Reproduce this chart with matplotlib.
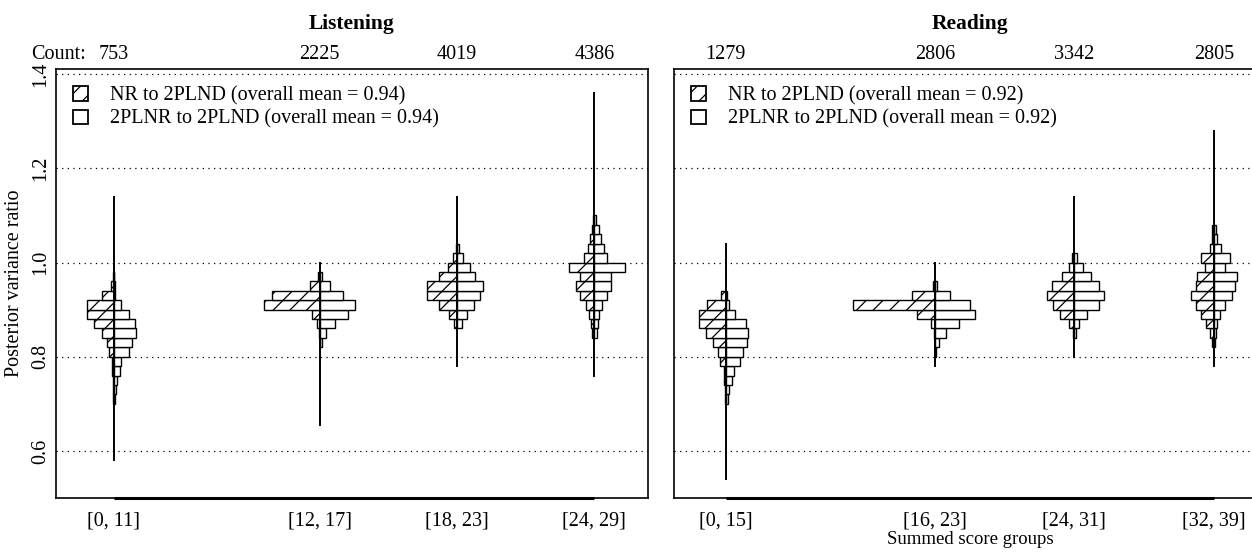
# 后验方差比的背靠背直方图 (Listening / Reading)
import numpy as np
import matplotlib.pyplot as plt
from matplotlib.patches import Patch

plt.rcParams['font.family'] = ['Liberation Serif', 'DejaVu Serif']
plt.rcParams['hatch.linewidth'] = 0.9

BIN = 0.02
positions = [0, 1.5, 2.5, 3.5]
FS = 14.5

# ---- Listening ----
listen_groups = ['[0, 11]', '[12, 17]', '[18, 23]', '[24, 29]']
listen_counts = [753, 2225, 4019, 4386]
listen_start = [0.70, 0.82, 0.86, 0.84]          # lower edge of first bin
# NR to 2PLND, percent per bin (bottom -> top)
listen_nr = [
    [0.8, 0.8, 0.8, 1.2, 1.6, 4.0, 5.4, 9.6, 16.0, 21.6, 21.6, 9.6, 2.2, 0.8],
    [0.0, 0.8, 2.2, 6.2, 45.4, 38.6, 8.0, 1.6],
    [2.2, 6.6, 14.6, 24.0, 24.0, 14.6, 7.0, 3.0, 0.8],
    [1.6, 2.6, 4.2, 7.2, 11.4, 15.0, 12.0, 20.8, 8.2, 5.6, 3.4, 1.6, 0.8],
]
# 2PLNR to 2PLND
listen_2pl = [
    [1.2, 2.0, 2.6, 4.8, 6.2, 12.0, 14.6, 18.2, 17.4, 12.0, 6.2, 1.4, 0.8, 0.4],
    [2.2, 5.4, 12.6, 23.2, 28.6, 19.2, 8.0, 1.6],
    [4.0, 7.8, 13.8, 18.4, 21.0, 14.6, 10.6, 5.0, 1.2],
    [2.4, 2.8, 4.0, 6.2, 9.8, 13.8, 13.2, 24.8, 9.8, 7.8, 5.0, 3.8, 1.6],
]
listen_range = [(0.58, 1.14), (0.655, 1.00), (0.78, 1.14), (0.76, 1.36)]
listen_means = (0.94, 0.94)

# ---- Reading ----
read_groups = ['[0, 15]', '[16, 23]', '[24, 31]', '[32, 39]']
read_counts = [1279, 2806, 3342, 2805]
read_start = [0.70, 0.80, 0.84, 0.82]
read_nr = [
    [0.8, 0.8, 1.2, 1.6, 4.8, 5.8, 9.8, 15.6, 20.8, 20.8, 15.0, 4.0],
    [0.0, 0.0, 0.8, 3.2, 14.6, 64.8, 18.2, 1.2],
    [1.2, 4.0, 11.2, 16.8, 21.6, 17.6, 9.8, 4.0, 1.6],
    [1.6, 3.2, 6.6, 10.6, 14.2, 17.8, 14.2, 13.4, 7.2, 10.6, 3.4, 1.8, 1.2],
]
read_2pl = [
    [1.6, 2.6, 5.4, 6.8, 11.4, 14.2, 17.0, 18.2, 16.0, 7.4, 2.6, 0.8],
    [0.8, 3.2, 8.6, 19.2, 32.0, 27.8, 12.0, 1.6],
    [1.2, 4.0, 10.2, 19.4, 24.0, 19.4, 13.6, 6.6, 2.4],
    [0.8, 1.4, 2.6, 4.6, 8.8, 14.2, 16.8, 18.2, 8.8, 12.6, 5.4, 2.4, 1.6],
]
read_range = [(0.54, 1.04), (0.78, 1.00), (0.80, 1.14), (0.78, 1.28)]
read_means = (0.92, 0.92)

PCT = 0.009   # x units per percent
COUNT_DY = 7.5


def draw_panel(ax, title, groups, counts, starts, nr, pl, ranges, means, xlim):
    ax.set_xlim(*xlim)
    ax.set_ylim(0.50, 1.411)
    for yv in [0.6, 0.8, 1.0, 1.2, 1.4]:
        ax.axhline(yv, color='black', lw=0.9, ls=(0, (1, 3.5)), zorder=0)

    for i, x0 in enumerate(positions):
        h = np.array(nr[i]) * PCT
        o = np.array(pl[i]) * PCT
        yc = starts[i] + BIN * (np.arange(len(h)) + 0.5)
        ax.barh(yc, h, height=BIN, left=x0 - h, facecolor='white',
                edgecolor='black', lw=1.0, hatch='//', zorder=2)
        ax.barh(yc, o, height=BIN, left=x0, facecolor='white',
                edgecolor='black', lw=1.0, zorder=2)
        ax.plot([x0, x0], ranges[i], color='black', lw=1.4, zorder=3)
        ax.annotate(str(counts[i]), xy=(x0, 1), xycoords=('data', 'axes fraction'),
                    xytext=(0, COUNT_DY), textcoords='offset points',
                    ha='center', va='baseline', fontsize=FS)

    ax.set_xticks(positions)
    ax.set_xticklabels(groups, fontsize=FS)
    ax.tick_params(axis='x', length=0, pad=10)
    ax.tick_params(axis='y', length=0)
    for s in ax.spines.values():
        s.set_linewidth(1.2)
    ax.plot([positions[0], positions[-1]], [0.50, 0.50], color='black', lw=2.2,
            solid_capstyle='butt', clip_on=False, zorder=5)
    ax.set_title(title, fontsize=FS + 1, fontweight='bold', pad=29)

    handles = [Patch(facecolor='white', edgecolor='black', hatch='//', lw=1.3),
               Patch(facecolor='white', edgecolor='black', lw=1.3)]
    labels = ['NR to 2PLND (overall mean = %.2f)' % means[0],
              '2PLNR to 2PLND (overall mean = %.2f)' % means[1]]
    ax.legend(handles, labels, loc='upper left', frameon=False, fontsize=FS,
              handlelength=0.75, handleheight=0.75, handletextpad=1.1,
              labelspacing=0.2, borderaxespad=0.45)


fig = plt.figure(figsize=(12.52, 5.53), dpi=100)
ax1 = fig.add_axes([56 / 1252, 55 / 553, 592 / 1252, 429 / 553])
ax2 = fig.add_axes([674 / 1252, 55 / 553, 592 / 1252, 429 / 553])

draw_panel(ax1, 'Listening', listen_groups, listen_counts, listen_start,
           listen_nr, listen_2pl, listen_range, listen_means, (-0.42, 3.89))
draw_panel(ax2, 'Reading', read_groups, read_counts, read_start,
           read_nr, read_2pl, read_range, read_means, (-0.37, 3.874))

ax1.set_yticks([0.6, 0.8, 1.0, 1.2, 1.4])
ax1.set_yticklabels(['0.6', '0.8', '1.0', '1.2', '1.4'], fontsize=FS,
                    rotation=90, va='center')
ax1.tick_params(axis='y', pad=4)
ax1.set_ylabel('Posterior variance ratio', fontsize=FS, labelpad=5)
ax2.set_yticks([])

ax1.annotate('Count:', xy=(positions[0], 1), xycoords=('data', 'axes fraction'),
             xytext=(-20, COUNT_DY), textcoords='offset points',
             ha='right', va='baseline', fontsize=FS)

ax2.set_xlabel('Summed score groups', fontsize=FS - 1, labelpad=0)

fig.savefig('out.png', dpi=100)
